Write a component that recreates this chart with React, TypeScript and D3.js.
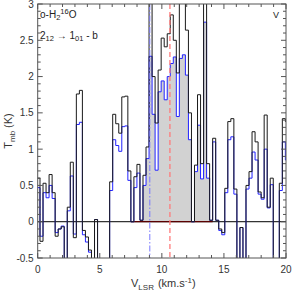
import React from 'react';
import * as d3 from 'd3';

// channel grid of the spectrum (km/s)
const chanStart = -0.059;
const chanWidth = 0.244;

// T_mb (K) per channel, black spectrum
const tBlack = [
  0.6, -0.27, 0.53, 0.4, 0.65, 0.4, -0.2, -0.1, -0.07, -0.8,
  0.2, 0.82, -0.22, 1.76, 1.81, -0.12, -0.21, -0.39, -0.8, 0.03,
  -0.8, -0.8, -0.8, -0.8, 0.55, 1.48, 1.35, 1.22, 1.72, 1.73,
  0.7, 0.0, 0.62, 0.79, 0.02, 0.64, 1.03, 3.6, 2.0, 1.36,
  2.09, 2.53, 2.41, 2.59, 2.85, 2.5, 2.05, 3.3, 3.3, 2.64,
  1.5, 0.0, 0.78, 1.75, 0.8, 3.6, 0.8, 0.02, 1.15, 0.02,
  -0.1, -0.15, 0.46, 1.38, 1.42, 0.45, -0.8, -0.08, -0.8, 0.5,
  0.69, 1.24, 1.1, 0.41, 0.33, 1.47, 0.2, 0.6, -0.8, -0.8,
  0.53, 1.42, 1.38,
];

// T_mb (K) per channel, blue spectrum
const tBlue = [
  0.47, -0.2, 0.4, 0.33, 0.5, 0.32, -0.15, -0.1, -0.06, -0.8,
  0.15, 0.63, -0.17, 1.34, 1.37, -0.18, -0.28, -0.42, -0.8, 0.03,
  -0.8, -0.8, -0.8, -0.8, 0.43, 1.13, 1.05, 0.97, 1.31, 1.32,
  0.57, 0.0, 0.47, 0.67, 0.02, 0.5, 0.87, 2.28, 1.48, 0.71,
  1.79, 1.94, 1.68, 2.0, 2.18, 2.27, 1.45, 2.25, 2.3, 2.02,
  1.13, 0.0, 0.69, 1.33, 0.59, 2.75, 0.6, 0.02, 1.1, 0.02,
  -0.12, -0.18, 0.4, 1.13, 1.17, 0.38, -0.8, -0.08, -0.8, 0.45,
  0.6, 0.96, 0.85, 0.38, 0.31, 1.0, 0.19, 0.51, -0.8, -0.8,
  0.43, 1.1, 0.85,
];

// integration window (channel indices) and marker velocities
const fillChannels = [35, 57];
const baseChannels = [31, 57];
const vBlueMark = 9.03;
const vRedMark = 10.65;

const xTicks = [0, 5, 10, 15, 20];
const yTicks = [-0.5, 0, 0.5, 1, 1.5, 2, 2.5, 3];

const W = 292;
const H = 293;
const margin = { left: 37.7, right: 6, top: 4, bottom: 35 };

const font = '"Liberation Sans", Arial, sans-serif';

export default function App() {
  const x = d3.scaleLinear().domain([0, 20]).range([margin.left, W - margin.right]);
  const y = d3.scaleLinear().domain([-0.5, 3]).range([H - margin.bottom, margin.top]);
  const [x0, x1] = x.range();
  const [y0, y1] = [y(3), y(-0.5)];

  const toPoints = (vals: number[]) => {
    const pts: [number, number][] = vals.map((t, i) => [chanStart + i * chanWidth, t]);
    pts.push([chanStart + vals.length * chanWidth, vals[vals.length - 1]]);
    return pts;
  };

  const step = d3.line<[number, number]>()
    .x(d => x(d[0]))
    .y(d => y(d[1]))
    .curve(d3.curveStepAfter);

  const fillPts = toPoints(tBlue).slice(fillChannels[0], fillChannels[1] + 1);
  fillPts.push([chanStart + (fillChannels[1] + 1) * chanWidth, tBlue[fillChannels[1]]]);
  const area = d3.area<[number, number]>()
    .x(d => x(d[0]))
    .y0(y(0))
    .y1(d => y(Math.max(0, d[1])))
    .curve(d3.curveStepAfter);

  const minorX = d3.range(0, 20.01, 1);
  const minorY = d3.range(-0.5, 3.001, 0.1);

  return (
    <svg width={W} height={H} style={{ position: 'absolute', left: 0, top: 0, background: '#fff' }}
      fontFamily={font}>
      <defs>
        <clipPath id="plot">
          <rect x={x0} y={y0} width={x1 - x0} height={y1 - y0} />
        </clipPath>
      </defs>

      <g clipPath="url(#plot)">
        <path d={area(fillPts) ?? ''} fill="#d2d2d2" />
        <line x1={x0} x2={x1} y1={y(0)} y2={y(0)} stroke="#000" strokeWidth={1} />
        <line x1={x(chanStart + baseChannels[0] * chanWidth)} x2={x(chanStart + (baseChannels[1] + 1) * chanWidth)}
          y1={y(0)} y2={y(0)} stroke="#5a0000" strokeWidth={1.2} />
        <path d={step(toPoints(tBlue)) ?? ''} fill="none" stroke="#2222ff" strokeWidth={1} />
        <path d={step(toPoints(tBlack)) ?? ''} fill="none" stroke="#1a1a1a" strokeWidth={1} />
        <line x1={x(vBlueMark)} x2={x(vBlueMark)} y1={y0} y2={y1} stroke="#7a7aff" strokeWidth={1}
          strokeDasharray="6,2,1.5,2" />
        <line x1={x(vRedMark)} x2={x(vRedMark)} y1={y0} y2={y1} stroke="#ff7a7a" strokeWidth={1.3}
          strokeDasharray="5,3" />
      </g>

      {/* frame and ticks */}
      <rect x={x0} y={y0} width={x1 - x0} height={y1 - y0} fill="none" stroke="#555" strokeWidth={1} />
      {minorX.map(v => {
        const major = v % 5 === 0;
        const len = major ? 5 : 3;
        return (
          <g key={'tx' + v} stroke="#555">
            <line x1={x(v)} x2={x(v)} y1={y1} y2={y1 - len} />
            <line x1={x(v)} x2={x(v)} y1={y0} y2={y0 + len} />
          </g>
        );
      })}
      {minorY.map((v, i) => {
        const major = i % 5 === 0;
        const len = major ? 5 : 3;
        return (
          <g key={'ty' + i} stroke="#555">
            <line x1={x0} x2={x0 + len} y1={y(v)} y2={y(v)} />
            <line x1={x1} x2={x1 - len} y1={y(v)} y2={y(v)} />
          </g>
        );
      })}

      {xTicks.map(v => (
        <text key={'lx' + v} x={x(v)} y={y1 + 15} fontSize={10} textAnchor="middle" fill="#333">{v}</text>
      ))}
      {yTicks.map(v => (
        <text key={'ly' + v} x={x0 - 4} y={y(v) + 3.5} fontSize={10} textAnchor="end" fill="#333">{v}</text>
      ))}

      {/* axis titles */}
      <text x={131} y={287} fontSize={11} fill="#333">
        V<tspan fontSize={8} dy={3}>LSR</tspan><tspan dy={-3} dx={4}>(km.s</tspan>
        <tspan fontSize={8} dy={-4}>-1</tspan><tspan dy={4}>)</tspan>
      </text>
      <text transform={`translate(12,${(y0 + y1) / 2}) rotate(-90)`} fontSize={11} textAnchor="middle" fill="#333">
        T<tspan fontSize={8} dy={3}>mb</tspan><tspan dy={-3} dx={3}>(K)</tspan>
      </text>

      {/* annotations */}
      <text x={40} y={18} fontSize={10} fill="#222">
        o-H<tspan fontSize={7.5} dy={2}>2</tspan><tspan fontSize={7.5} dy={-6}>16</tspan><tspan dy={4}>O</tspan>
      </text>
      <text x={40} y={39} fontSize={10} fill="#222">
        2<tspan fontSize={7.5} dy={2}>12</tspan><tspan dy={-2}> → 1</tspan><tspan fontSize={7.5} dy={2}>01</tspan>
        <tspan dy={-2}> - b</tspan>
      </text>
      <text x={273} y={18} fontSize={9} fill="#222">V</text>
    </svg>
  );
}
